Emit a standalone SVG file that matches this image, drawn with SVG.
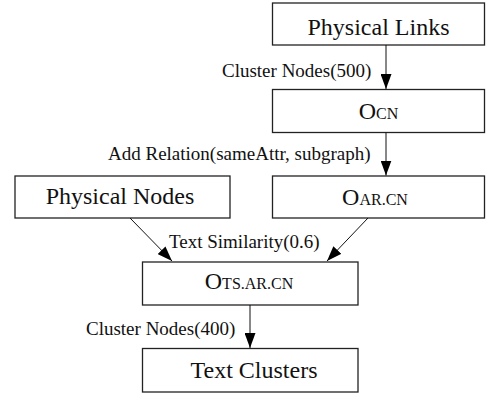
<svg xmlns="http://www.w3.org/2000/svg" width="486" height="394" viewBox="0 0 486 394">
<style>
.box{fill:#fff;stroke:#222;stroke-width:1.3}
.nt{font-family:"Liberation Serif","Times New Roman",serif;font-size:24px;fill:#111;text-anchor:middle}
.sc{font-size:16px}
.lb{font-family:"Liberation Serif","Times New Roman",serif;font-size:19px;fill:#111}
.edge{stroke:#111;stroke-width:1;fill:none;marker-end:url(#ah)}
</style>
<defs>
<marker id="ah" markerUnits="userSpaceOnUse" markerWidth="15" markerHeight="11" refX="15" refY="5.5" orient="auto">
<path d="M0,0 L15,5.5 L0,11 z" fill="#000"/>
</marker>
</defs>
<g id="physical-links"><rect class="box" x="272.5" y="3" width="212" height="42"/><text class="nt" x="378.5" y="34.5">Physical Links</text></g>
<g id="ocn"><rect class="box" x="272.5" y="89.5" width="212" height="43"/><text class="nt" x="378.5" y="119">O<tspan class="sc">CN</tspan></text></g>
<g id="oar-cn"><rect class="box" x="272.5" y="176" width="212" height="42"/><text class="nt" x="375" y="205">O<tspan class="sc">AR.CN</tspan></text></g>
<g id="physical-nodes"><rect class="box" x="15" y="176" width="215" height="42"/><text class="nt" x="120" y="203.5">Physical Nodes</text></g>
<g id="ots-ar-cn"><rect class="box" x="142.5" y="262" width="215.5" height="43"/><text class="nt" x="249" y="289">O<tspan class="sc">TS.AR.CN</tspan></text></g>
<g id="text-clusters"><rect class="box" x="142.5" y="348.5" width="215.5" height="43.5"/><text class="nt" x="254" y="378">Text Clusters</text></g>
<g id="connectors">
<line class="edge" x1="386" y1="45" x2="386" y2="89"/>
<line class="edge" x1="386" y1="132.5" x2="386" y2="175.5"/>
<line class="edge" x1="130" y1="218" x2="172" y2="261"/>
<line class="edge" x1="368" y1="218" x2="327" y2="261"/>
<line class="edge" x1="250" y1="305" x2="250" y2="348"/>
</g>
<g id="labels">
<text class="lb" x="222" y="77">Cluster Nodes(500)</text>
<text class="lb" x="108" y="159.5">Add Relation(sameAttr, subgraph)</text>
<text class="lb" x="169" y="248">Text Similarity(0.6)</text>
<text class="lb" x="86" y="335">Cluster Nodes(400)</text>
</g>
</svg>
